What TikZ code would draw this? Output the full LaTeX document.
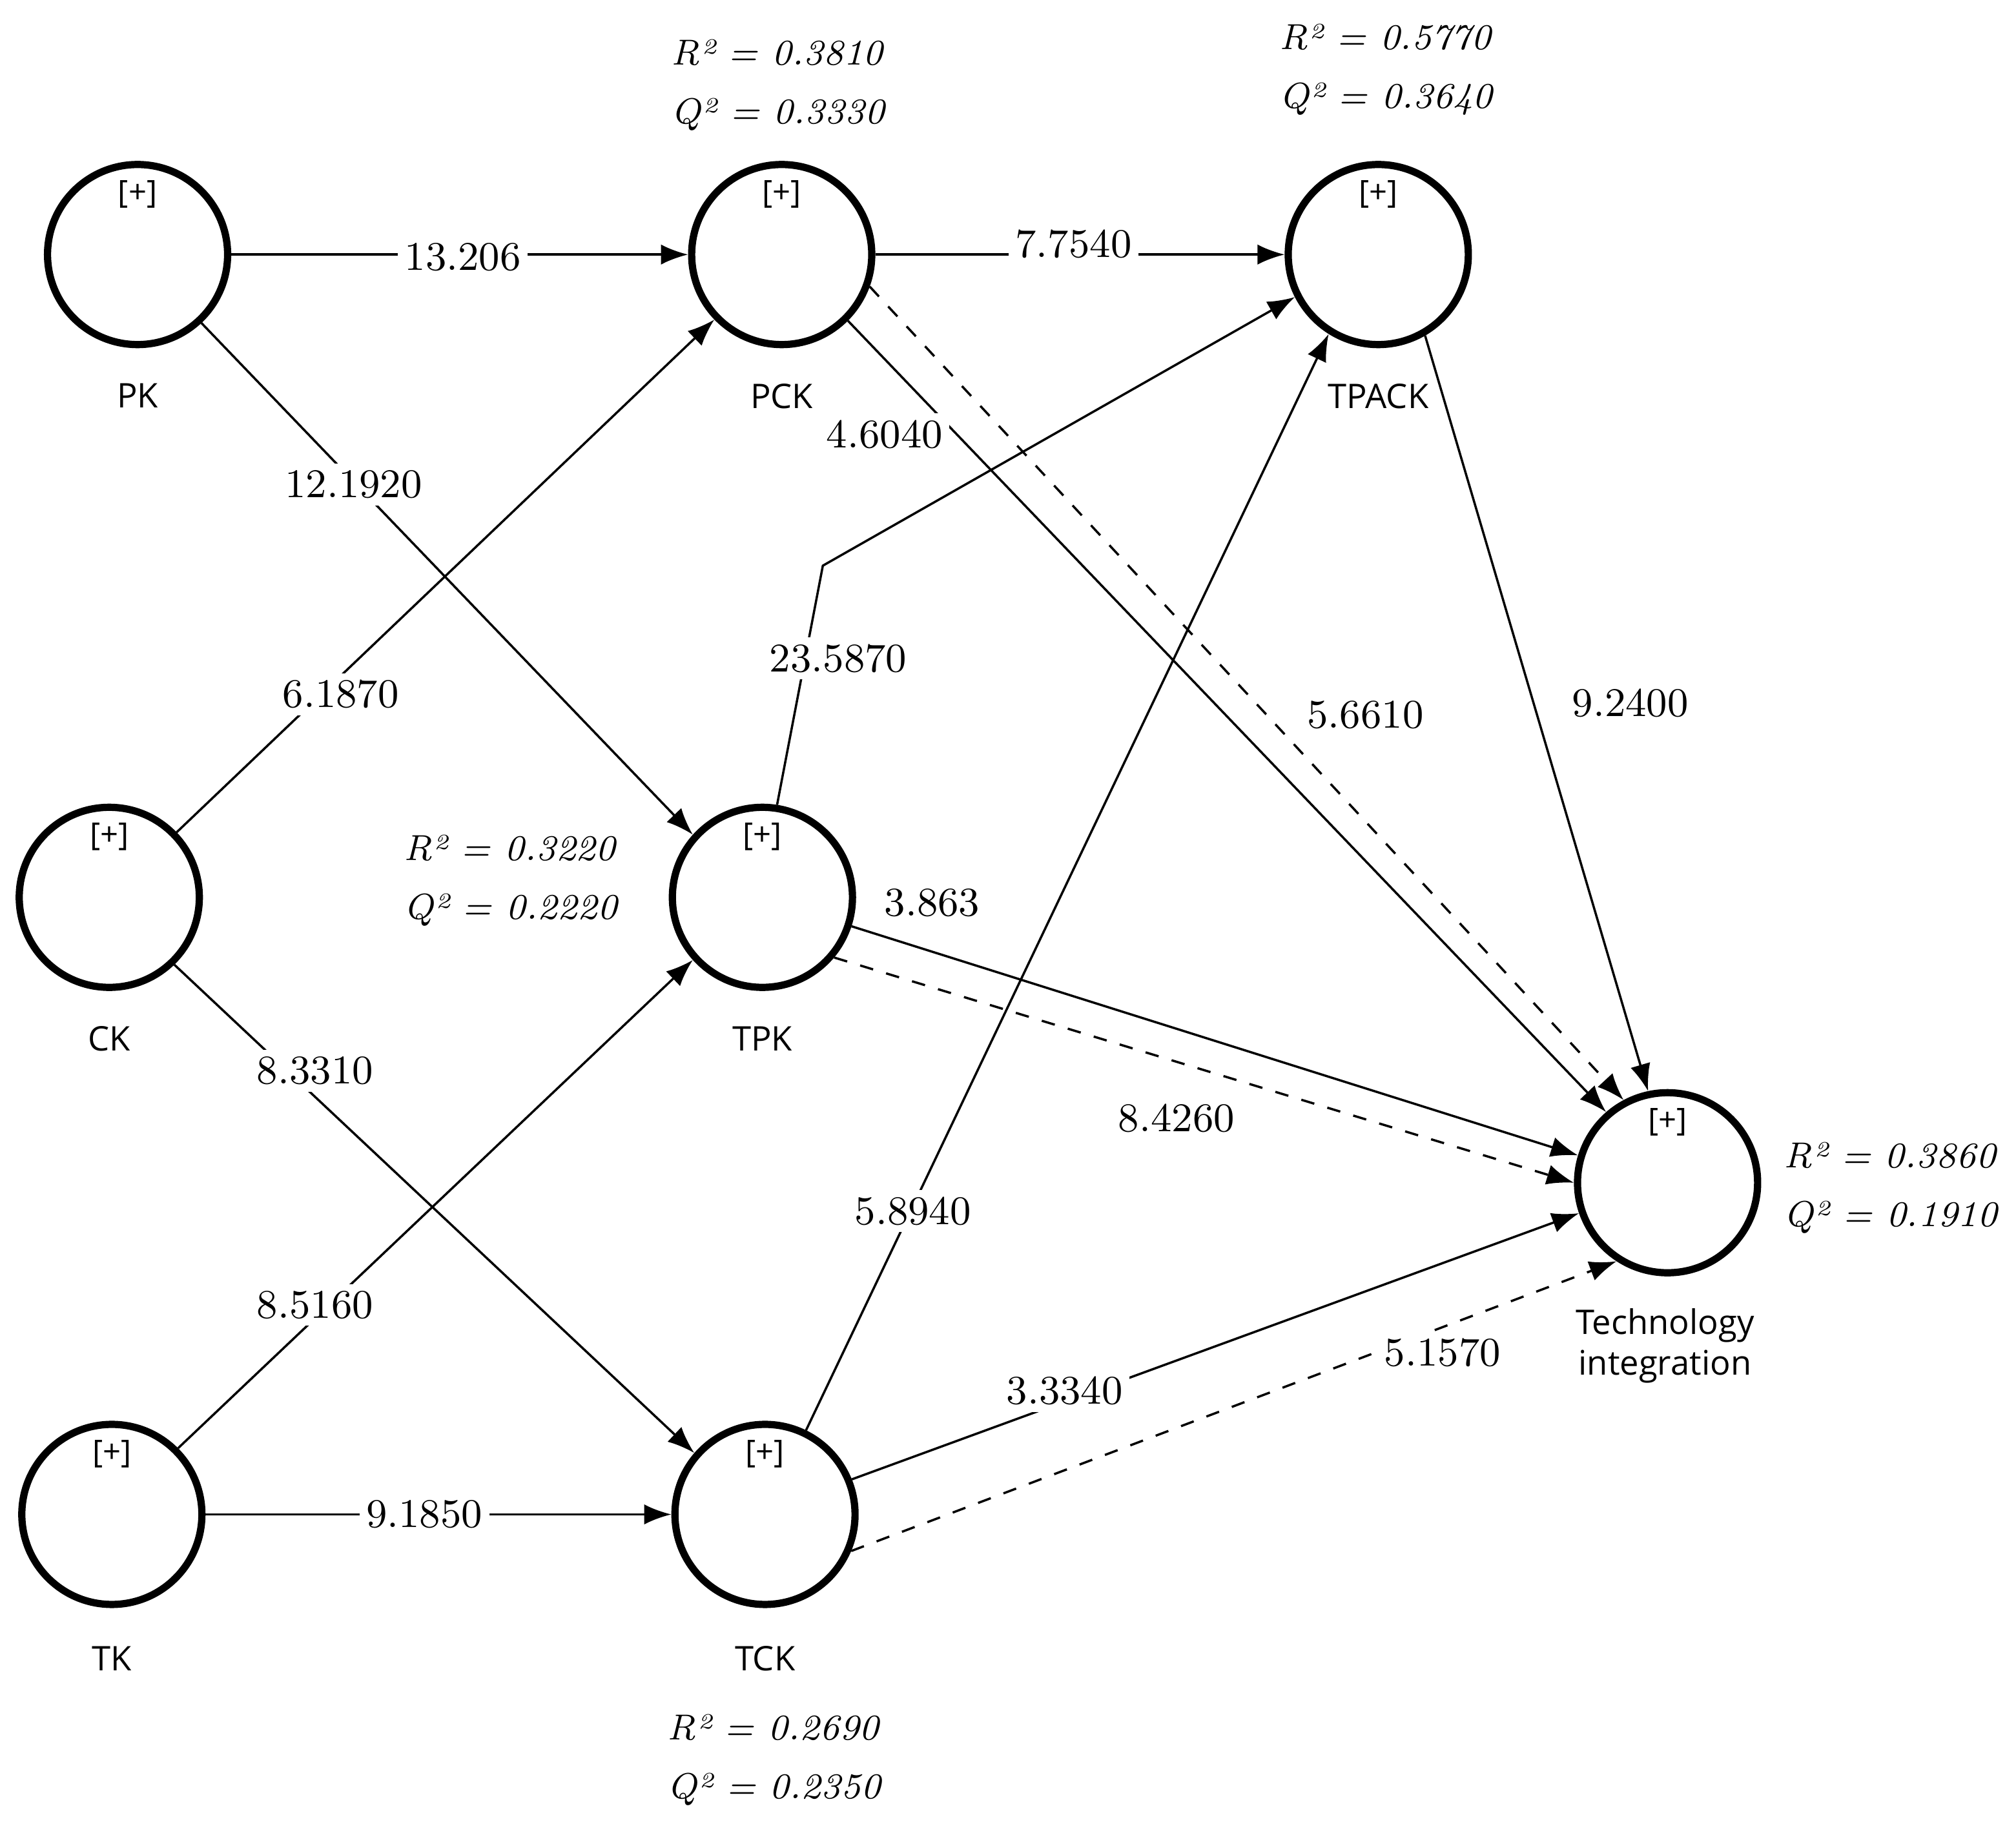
\documentclass[tikz,border=0pt]{standalone}
\usepackage{fontspec}
\newfontfamily\labf{Open Sans}
\usetikzlibrary{arrows.meta}
\begin{document}
\begin{tikzpicture}[x=0.01cm,y=-0.01cm,
  lv/.style={circle,draw,line width=1.6pt,minimum size=1.4cm,inner sep=0pt},
  plus/.style={font=\labf\fontsize{7}{8}\selectfont},
  nm/.style={font=\labf\fontsize{7.5}{9}\selectfont,align=center},
  num/.style={fill=white,inner sep=1.5pt,font=\fontsize{9}{11}\selectfont},
  rq/.style={font=\itshape\fontsize{8}{10}\selectfont,align=left},
  ar/.style={line width=0.5pt,-{Latex[length=6pt,width=4.5pt]}},
  da/.style={ar,dashed}]
\useasboundingbox (0,0) rectangle (1568,1427);
\node[lv] (PK) at (107,198) {};
\node[lv] (PCK) at (608,198) {};
\node[lv] (TPACK) at (1072,198) {};
\node[lv] (CK) at (85,698) {};
\node[lv] (TPK) at (593,698) {};
\node[lv] (TK) at (87,1178) {};
\node[lv] (TCK) at (595,1178) {};
\node[lv] (TI) at (1297,920) {};
\foreach \n/\x/\y in {PK/107/198,PCK/608/198,TPACK/1072/198,CK/85/698,TPK/593/698,TK/87/1178,TCK/595/1178,TI/1297/920}
  \node[plus] (p\n) at (\x,\y-47) {[+]};
\node[nm] (lPK) at (107,308) {PK};
\node[nm] (lPCK) at (608,308) {PCK};
\node[nm] (lTPACK) at (1072,308) {TPACK};
\node[nm] (lCK) at (85,808) {CK};
\node[nm] (lTPK) at (593,808) {TPK};
\node[nm] (lTK) at (87,1290) {TK};
\node[nm] (lTCK) at (595,1290) {TCK};
\node[nm] (lTI) at (1295,1047) {Technology\\integration};
% connectors
\draw[ar] (PK.0) -- (PCK.180);
\draw[ar] (PK.-47) -- (TPK.138);
\draw[ar] (CK.44) -- (PCK.224);
\draw[ar] (CK.-46) -- (TCK.139);
\draw[ar] (TK.45) -- (TPK.222);
\draw[ar] (TK.0) -- (TCK.180);
\draw[ar] (PCK.0) -- (TPACK.180);
\draw[ar] (PCK.-45) -- (TI.131);
\draw[da] (PCK.-20) -- (TI.118);
\coordinate (bend) at (640,440);
\draw[ar] (TPK.81) -- (bend) -- (TPACK.207);
\draw[ar] (TCK.64) -- (TPACK.238);
\draw[ar] (TPACK.-60) -- (TI.102);
\draw[ar] (TPK.-18) -- (TI.163);
\draw[da] (TPK.-40) -- (TI.180);
\draw[ar] (TCK.22) -- (TI.199);
\draw[da] (TCK.-23) -- (TI.237);
% numbers
\node[num] (n1) at (360,200) {13.206};
\node[num] (n2) at (275,377) {12.1920};
\node[num] (n3) at (265,540) {6.1870};
\node[num] (n4) at (245,833) {8.3310};
\node[num] (n5) at (245,1015) {8.5160};
\node[num] (n6) at (330,1178) {9.1850};
\node[num] (n7) at (835,190) {7.7540};
\node[num] (n8) at (688,338) {4.6040};
\node[num] (n9) at (1062,556) {5.6610};
\node[num] (n10) at (652,512) {23.5870};
\node[num] (n11) at (710,942) {5.8940};
\node[num] (n12) at (1268,547) {9.2400};
\node[num] (n13) at (725,702) {3.863};
\node[num] (n14) at (915,870) {8.4260};
\node[num] (n15) at (828,1082) {3.3340};
\node[num] (n16) at (1122,1052) {5.1570};
% R2 Q2
\node[rq] (r1) at (605,66) {R² = 0.3810\\[3pt]Q² = 0.3330};
\node[rq] (r2) at (1078,54) {R² = 0.5770\\[3pt]Q² = 0.3640};
\node[rq] (r3) at (397,685) {R² = 0.3220\\[3pt]Q² = 0.2220};
\node[rq] (r4) at (602,1369) {R² = 0.2690\\[3pt]Q² = 0.2350};
\node[rq,anchor=east] (r5) at (1566,924) {R² = 0.3860\\[3pt]Q² = 0.1910};
\end{tikzpicture}
\end{document}
